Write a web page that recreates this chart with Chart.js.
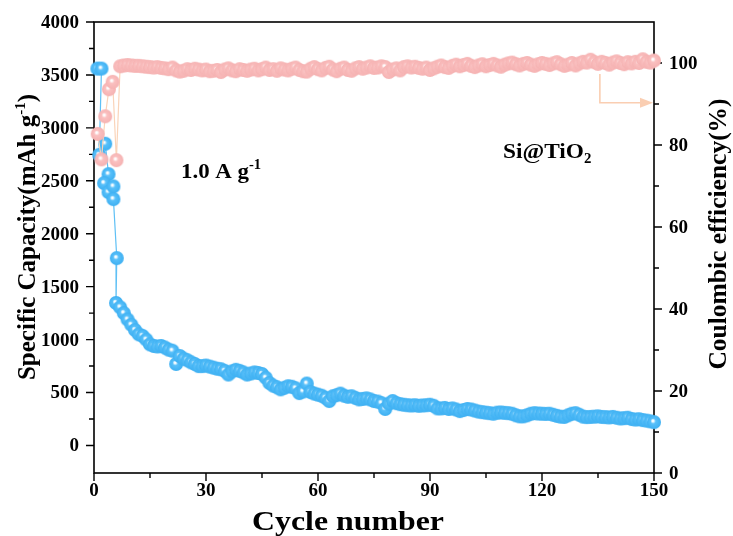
<!DOCTYPE html>
<html>
<head>
<meta charset="utf-8">
<script src="https://cdn.jsdelivr.net/npm/chart.js@4.4.0/dist/chart.umd.min.js"></script>
<style>
  html, body { margin: 0; padding: 0; background: #fff; }
  #wrap { width: 733px; height: 536px; }
</style>
</head>
<body>
<div id="wrap"><canvas id="chart" width="733" height="536"></canvas></div>
<script>
// capacity (left axis), first cycles are irregular so they keep their own x values
const capEarlyCycle = [0.9, 2.0, 1.4, 3.0, 3.9, 2.7, 3.9, 5.2, 5.2, 6.1, 5.9];
const capEarly = [3560, 3560, 2745, 2850, 2563, 2478, 2393, 2447, 2327, 1770, 1346];
// cycles 7..150
const capacity = [
  1305, 1250, 1190, 1140, 1090, 1050, 1035, 1000, 955, 940,
  935, 940, 925, 905, 895, 770, 845, 820, 805, 785,
  770, 750, 750, 755, 745, 735, 725, 720, 705, 670,
  700, 715, 705, 690, 670, 680, 690, 685, 675, 640,
  590, 565, 550, 530, 545, 560, 555, 540, 495, 510,
  585, 505, 490, 480, 470, 450, 420, 465, 475, 490,
  470, 460, 465, 450, 435, 440, 445, 435, 420, 415,
  400, 345, 395, 420, 400, 390, 385, 380, 378, 380,
  375, 378, 380, 385, 375, 350, 350, 355, 345, 350,
  340, 325, 335, 345, 340, 330, 320, 315, 310, 305,
  300, 310, 312, 308, 305, 300, 285, 275, 275, 285,
  300, 305, 302, 300, 298, 300, 290, 280, 272, 270,
  285, 300, 305, 290, 272, 268, 270, 272, 275, 270,
  268, 265, 270, 262, 255, 258, 262, 250, 245, 248,
  240, 235, 228, 220
];

// coulombic efficiency (right axis)
const ceEarlyCycle = [1, 2, 3, 4, 5, 6];
const ceEarly = [82.7, 76.5, 87.0, 93.6, 95.4, 76.3];
// cycles 7..150
const efficiency = [
  99.2, 99.4, 99.5, 99.4, 99.3, 99.3, 99.2, 99.1, 99.0,
  98.9, 99.0, 98.8, 98.7, 98.5, 98.9, 98.2, 97.9, 98.1, 98.5, 98.3, 98.6, 98.4, 98.2, 98.4,
  98.0, 98.1, 98.3, 97.8, 98.4, 98.7, 98.2, 98.0, 98.5, 98.3, 98.1, 98.4, 98.6, 98.2, 98.5,
  98.9, 98.3, 98.5, 98.1, 98.7, 98.4, 98.2, 98.6, 98.9, 98.3, 98.0, 97.9, 98.6, 99.0, 98.5,
  98.2, 98.8, 99.1, 98.4, 98.0, 98.6, 98.9, 98.3, 98.1, 98.7, 99.0, 98.6, 98.9, 99.2, 98.8,
  98.9, 99.2, 99.0, 97.8, 98.4, 98.7, 98.2, 99.0, 99.2, 98.9, 99.1, 98.8, 98.6, 98.9, 98.3,
  98.7, 99.1, 99.4, 99.0, 98.8, 99.3, 99.6, 99.2, 99.5, 99.8, 99.3, 99.0, 99.4, 99.7, 99.2,
  99.5, 99.8, 99.4, 99.1, 99.6, 99.9, 100.1, 99.7, 99.4, 99.8, 100.0, 99.6, 99.3, 99.7, 100.0,
  99.8, 99.5, 99.9, 100.2, 99.7, 99.3, 99.6, 100.0, 99.4, 99.9, 100.3, 100.1, 100.8, 100.2, 99.8,
  100.3, 100.0, 99.6, 100.1, 100.4, 100.0, 99.7, 100.2, 99.9, 100.3, 100.0, 100.9, 100.3, 100.1, 100.6
];

const xTicks = [0, 30, 60, 90, 120, 150];
const capTicks = [0, 500, 1000, 1500, 2000, 2500, 3000, 3500, 4000];
const ceTicks = [0, 20, 40, 60, 80, 100];

const capPoints = capEarlyCycle.map((c, i) => ({ x: c, y: capEarly[i] }))
  .concat(capacity.map((v, i) => ({ x: 7 + i, y: v })));
const cePoints = ceEarlyCycle.map((c, i) => ({ x: c, y: ceEarly[i] }))
  .concat(efficiency.map((v, i) => ({ x: 7 + i, y: v })));

const SERIF = '"Liberation Serif", "Times New Roman", serif';

function makeBall(edge, mid, r) {
  const c = document.createElement("canvas");
  const s = r * 2 + 2;
  c.width = s; c.height = s;
  const g = c.getContext("2d");
  const cx = s / 2, cy = s / 2;
  const grad = g.createRadialGradient(cx - 1.3, cy - 1.6, 0, cx, cy, r);
  grad.addColorStop(0, "#ffffff");
  grad.addColorStop(0.12, "#ffffff");
  grad.addColorStop(0.38, mid);
  grad.addColorStop(1, edge);
  g.fillStyle = grad;
  g.beginPath();
  g.arc(cx, cy, r, 0, Math.PI * 2);
  g.fill();
  return c;
}
const blueBall = makeBall("rgb(62,176,242)", "rgb(88,192,250)", 7);
const pinkBall = makeBall("rgb(245,178,178)", "rgb(251,192,192)", 7);

function rich(ctx, parts, x, y, align, sx) {
  sx = sx || 1;
  let w = 0;
  parts.forEach(p => { ctx.font = "bold " + p.size + "px " + SERIF; p.w = ctx.measureText(p.t).width; w += p.w; });
  ctx.save();
  ctx.translate(x, y);
  ctx.scale(sx, 1);
  let cx = align === "center" ? -w / 2 : 0;
  ctx.textAlign = "left";
  ctx.textBaseline = "alphabetic";
  parts.forEach(p => {
    ctx.font = "bold " + p.size + "px " + SERIF;
    ctx.fillText(p.t, cx, p.dy || 0);
    cx += p.w;
  });
  ctx.restore();
}

const frame = {
  id: "frame",
  beforeDatasetsDraw(chart) {
    const ctx = chart.ctx;
    const a = chart.chartArea;
    const xs = chart.scales.x, yl = chart.scales.y, yr = chart.scales.y2;
    ctx.save();
    ctx.strokeStyle = "#000";
    ctx.lineWidth = 1.6;
    ctx.strokeRect(a.left, a.top, a.right - a.left, a.bottom - a.top);
    ctx.lineWidth = 1.4;
    ctx.beginPath();
    for (let v = 0; v <= 150; v += 15) {
      const px = xs.getPixelForValue(v);
      const len = v % 30 === 0 ? 8 : 5;
      ctx.moveTo(px, a.bottom); ctx.lineTo(px, a.bottom + len);
    }
    for (let v = 0; v <= 4000; v += 250) {
      const py = yl.getPixelForValue(v);
      const len = v % 500 === 0 ? 8 : 5;
      ctx.moveTo(a.left, py); ctx.lineTo(a.left - len, py);
    }
    for (let v = 0; v <= 100; v += 10) {
      const py = yr.getPixelForValue(v);
      const len = v % 20 === 0 ? 8 : 5;
      ctx.moveTo(a.right, py); ctx.lineTo(a.right + len, py);
    }
    ctx.stroke();

    ctx.fillStyle = "#000";
    ctx.font = "bold 19px " + SERIF;
    ctx.textAlign = "center";
    ctx.textBaseline = "top";
    xTicks.forEach(v => ctx.fillText(String(v), xs.getPixelForValue(v), a.bottom + 9));
    ctx.textAlign = "right";
    ctx.textBaseline = "middle";
    capTicks.forEach(v => ctx.fillText(String(v), a.left - 15, yl.getPixelForValue(v) + 1));
    ctx.textAlign = "left";
    ceTicks.forEach(v => ctx.fillText(String(v), a.right + 15, yr.getPixelForValue(v) + 1));

    // axis titles
    rich(ctx, [{ t: "Cycle number", size: 27 }], 348, 530, "center", 1.18);
    ctx.save();
    ctx.translate(35, 237);
    ctx.rotate(-Math.PI / 2);
    rich(ctx, [
      { t: "Specific Capacity(mAh g", size: 25 },
      { t: "-1", size: 15, dy: -10 },
      { t: ")", size: 25 }
    ], 0, 0, "center");
    ctx.restore();
    ctx.save();
    ctx.translate(726, 234);
    ctx.rotate(-Math.PI / 2);
    rich(ctx, [{ t: "Coulombic efficiency(%)", size: 25.5 }], 0, 0, "center");
    ctx.restore();
    ctx.restore();
  },
  afterDatasetsDraw(chart) {
    const ctx = chart.ctx;
    const xs = chart.scales.x, yr = chart.scales.y2;
    ctx.save();
    ctx.fillStyle = "#000";
    rich(ctx, [
      { t: "1.0 A g", size: 22 },
      { t: "-1", size: 14, dy: -9 }
    ], 181, 178, "left", 1.04);
    rich(ctx, [
      { t: "Si@TiO", size: 22 },
      { t: "2", size: 14, dy: 5 }
    ], 503, 158, "left", 1.06);

    // arrow pointing to the right axis
    const ax = xs.getPixelForValue(135.5);
    const ay1 = yr.getPixelForValue(97.3);
    const ay2 = yr.getPixelForValue(90.3);
    const tip = chart.chartArea.right - 1;
    ctx.strokeStyle = "rgb(250,206,178)";
    ctx.fillStyle = "rgb(250,206,178)";
    ctx.lineWidth = 1.6;
    ctx.beginPath();
    ctx.moveTo(ax, ay1); ctx.lineTo(ax, ay2); ctx.lineTo(tip - 10, ay2);
    ctx.stroke();
    ctx.beginPath();
    ctx.moveTo(tip, ay2); ctx.lineTo(tip - 13, ay2 - 5); ctx.lineTo(tip - 13, ay2 + 5);
    ctx.closePath();
    ctx.fill();
    ctx.restore();
  }
};

new Chart("chart", {
  type: "line",
  data: {
    datasets: [
      {
        label: "Coulombic efficiency",
        data: cePoints,
        yAxisID: "y2",
        borderColor: "rgb(250,212,185)",
        borderWidth: 1.2,
        pointStyle: pinkBall,
        pointRadius: 7,
        clip: false,
      },
      {
        label: "Specific capacity",
        data: capPoints,
        yAxisID: "y",
        borderColor: "rgb(95,192,245)",
        borderWidth: 1.2,
        pointStyle: blueBall,
        pointRadius: 7,
        clip: false,
      },
    ],
  },
  options: {
    responsive: false,
    animation: false,
    events: [],
    layout: { padding: { top: 22, left: 0, right: 0, bottom: 0 } },
    plugins: { legend: { display: false }, tooltip: { enabled: false } },
    scales: {
      x: {
        type: "linear", min: 0, max: 150,
        grid: { display: false, drawTicks: false }, border: { display: false },
        ticks: { display: false },
        afterFit(s) { s.height = 63; },
      },
      y: {
        type: "linear", position: "left", min: -260, max: 4000,
        grid: { display: false, drawTicks: false }, border: { display: false },
        ticks: { display: false },
        afterFit(s) { s.width = 94; },
      },
      y2: {
        type: "linear", position: "right", min: 0, max: 110,
        grid: { display: false, drawTicks: false }, border: { display: false },
        ticks: { display: false },
        afterFit(s) { s.width = 79; },
      },
    },
  },
  plugins: [frame],
});
</script>
</body>
</html>
